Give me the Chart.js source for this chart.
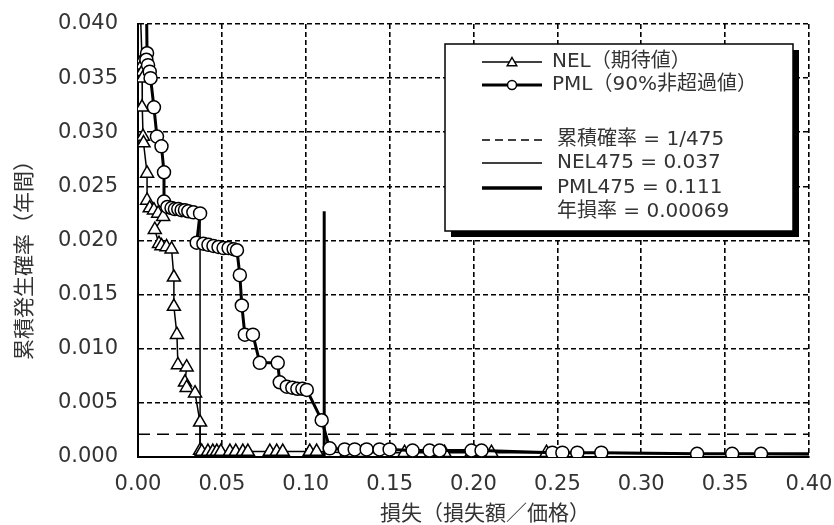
<!DOCTYPE html>
<html lang="ja">
<head>
<meta charset="utf-8">
<script src="https://cdn.jsdelivr.net/npm/chart.js@4.4.1/dist/chart.umd.min.js"></script>
<style>
html, body { margin: 0; padding: 0; background: #fff; }
#wrap { width: 834px; height: 525px; position: relative; }
</style>
</head>
<body>
<div id="wrap"><canvas id="chart" width="834" height="525"></canvas></div>
<script>
// NEL (expected) curve: loss ratio vs cumulative annual exceedance
const nelX = [
    0.0006, 0.0024, 0.0024, 0.0026, 0.0028, 0.0024, 0.0030, 0.0033,
    0.0054, 0.0054, 0.0070, 0.0095, 0.0120, 0.0150, 0.0100, 0.0125,
    0.0140, 0.0170, 0.0200, 0.0214, 0.0214, 0.0232, 0.0238, 0.0290,
    0.0280, 0.0290, 0.0340, 0.0370, 0.0370, 0.0380, 0.0417, 0.0446,
    0.0470, 0.0494, 0.0548, 0.0583, 0.0625, 0.0655, 0.0786, 0.0827,
    0.0863, 0.1024, 0.1065, 0.1244, 0.1333, 0.1589, 0.1756, 0.1827,
    0.1988, 0.2107, 0.2435, 0.4000,
];
const nelY = [
    0.0450, 0.0367, 0.0362, 0.0356, 0.0350, 0.0323, 0.0296, 0.0290,
    0.0262, 0.0237, 0.0230, 0.0228, 0.0225, 0.0222, 0.0210, 0.0197,
    0.0195, 0.0194, 0.0192, 0.0166, 0.0139, 0.0113, 0.0085, 0.0083,
    0.0069, 0.0064, 0.0059, 0.0032, 0.0006, 0.0005, 0.0005, 0.0005,
    0.0005, 0.0005, 0.0005, 0.0005, 0.0005, 0.0005, 0.0005, 0.0005,
    0.0005, 0.0005, 0.0005, 0.0004, 0.0004, 0.0004, 0.0004, 0.0004,
    0.0004, 0.0004, 0.0004, 0.0002,
];

// PML (90% non-exceedance) curve
const pmlX = [
    0.0048, 0.0054, 0.0050, 0.0060, 0.0070, 0.0075, 0.0095, 0.0113,
    0.0140, 0.0155, 0.0155, 0.0175, 0.0200, 0.0220, 0.0240, 0.0260,
    0.0280, 0.0300, 0.0330, 0.0370, 0.0350, 0.0390, 0.0420, 0.0450,
    0.0480, 0.0510, 0.0540, 0.0570, 0.0590, 0.0607, 0.0619, 0.0637,
    0.0685, 0.0726, 0.0833, 0.0845, 0.0887, 0.0920, 0.0950, 0.0980,
    0.1006, 0.1095, 0.1143, 0.1232, 0.1292, 0.1363, 0.1440, 0.1500,
    0.1637, 0.1738, 0.1798, 0.1988, 0.2048, 0.2470, 0.2530, 0.2619,
    0.2762, 0.3333, 0.3542, 0.3714, 0.4000,
];
const pmlY = [
    0.0450, 0.0373, 0.0367, 0.0362, 0.0356, 0.0350, 0.0323, 0.0296,
    0.0287, 0.0263, 0.0236, 0.0231, 0.0230, 0.0229, 0.0229, 0.0228,
    0.0228, 0.0227, 0.0226, 0.0225, 0.0198, 0.0197, 0.0196, 0.0195,
    0.0194, 0.0193, 0.0193, 0.0192, 0.0191, 0.0168, 0.0140, 0.0113,
    0.0113, 0.0087, 0.0087, 0.0069, 0.0065, 0.0064, 0.0063, 0.0063,
    0.0062, 0.0034, 0.0008, 0.0007, 0.0007, 0.0007, 0.0007, 0.0007,
    0.0006, 0.0006, 0.0006, 0.0006, 0.0006, 0.0004, 0.0004, 0.0004,
    0.0004, 0.0003, 0.0003, 0.0003, 0.0003,
];

// reference lines
const probLineX = [0.0, 0.40];
const probLineY = [1 / 475, 1 / 475];
const nel475X = [0.037, 0.037];
const pml475X = [0.111, 0.111];
const markLineY = [0.0, 0.0227];

const legendTexts = [
    'NEL（期待値）',
    'PML（90%非超過値）',
    '累積確率 = 1/475',
    'NEL475 = 0.037',
    'PML475 = 0.111',
    '年損率 = 0.00069',
];
const xTitle = '損失（損失額／価格）';
const yTitle = '累積発生確率（年間）';

const LATIN = "'DejaVu Sans', 'Noto Sans CJK JP', sans-serif";
const JP = "'Noto Sans CJK JP', sans-serif";
const TEXT = '#333';

function toPoints(xs, ys) {
    return xs.map((x, i) => ({ x, y: ys[i] }));
}

// hide markers on the helper end points that run off the chart
function edgeRadius(r) {
    return (ctx) => {
        const n = ctx.dataset.data.length;
        return ctx.dataIndex === 0 || ctx.dataIndex === n - 1 ? 0 : r;
    };
}

// the plot box is placed by layout.padding, not by label overhang
function noOverhang(s) {
    s.paddingTop = 0;
    s.paddingBottom = 0;
    s.paddingLeft = 0;
    s.paddingRight = 0;
}

function triangle(ctx, x, y, r) {
    ctx.beginPath();
    ctx.moveTo(x, y - r);
    ctx.lineTo(x + r * 0.866, y + r * 0.5);
    ctx.lineTo(x - r * 0.866, y + r * 0.5);
    ctx.closePath();
    ctx.fill();
    ctx.stroke();
}

const boxLegend = {
    id: 'boxLegend',
    afterDraw(chart) {
        const ctx = chart.ctx;
        const bx = 445, by = 44, bw = 348, bh = 187;
        ctx.save();
        ctx.fillStyle = '#000';
        ctx.fillRect(bx + 6, by + 6, bw, bh);
        ctx.fillStyle = '#fff';
        ctx.fillRect(bx, by, bw, bh);
        ctx.strokeStyle = '#000';
        ctx.lineWidth = 1.5;
        ctx.strokeRect(bx, by, bw, bh);

        const rows = [
            { y: 62, w: 1.5, dash: [], mark: 'tri', tx: 552 },
            { y: 85, w: 3, dash: [], mark: 'circ', tx: 552 },
            { y: 140, w: 1.5, dash: [8, 5], mark: null, tx: 557 },
            { y: 163, w: 1.5, dash: [], mark: null, tx: 557 },
            { y: 188, w: 3.5, dash: [], mark: null, tx: 557 },
            { y: 212, w: 0, dash: [], mark: null, tx: 557 },
        ];
        rows.forEach((r, i) => {
            if (r.w) {
                ctx.setLineDash(r.dash);
                ctx.lineWidth = r.w;
                ctx.beginPath();
                ctx.moveTo(482, r.y);
                ctx.lineTo(542, r.y);
                ctx.stroke();
                ctx.setLineDash([]);
            }
            ctx.fillStyle = '#fff';
            ctx.lineWidth = 1.5;
            if (r.mark === 'tri') triangle(ctx, 512, r.y + 1, 5.5);
            if (r.mark === 'circ') {
                ctx.beginPath();
                ctx.arc(512, r.y, 4.5, 0, Math.PI * 2);
                ctx.fill();
                ctx.stroke();
            }
            ctx.fillStyle = TEXT;
            ctx.font = `20px ${LATIN}`;
            ctx.textAlign = 'left';
            ctx.textBaseline = 'middle';
            ctx.fillText(legendTexts[i], r.tx, r.y);
        });

        // axis titles
        ctx.font = `21px ${JP}`;
        ctx.textAlign = 'center';
        ctx.textBaseline = 'middle';
        ctx.fillText(xTitle, 485, 512);
        ctx.translate(23, 255);
        ctx.rotate(-Math.PI / 2);
        ctx.fillText(yTitle, 0, 0);
        ctx.restore();
    },
};

const ctx = document.getElementById('chart').getContext('2d');
new Chart(ctx, {
    type: 'scatter',
    data: {
        datasets: [
            {
                label: 'PML',
                data: toPoints(pmlX, pmlY),
                showLine: true,
                borderColor: '#000',
                borderWidth: 3,
                pointStyle: 'circle',
                pointRadius: edgeRadius(6.5),
                pointBackgroundColor: '#fff',
                pointBorderColor: '#000',
                pointBorderWidth: 1.5,
                order: 0,
            },
            {
                label: 'NEL',
                data: toPoints(nelX, nelY),
                showLine: true,
                borderColor: '#000',
                borderWidth: 1.5,
                pointStyle: 'triangle',
                pointRadius: edgeRadius(7.5),
                pointBackgroundColor: '#fff',
                pointBorderColor: '#000',
                pointBorderWidth: 1.5,
                order: 1,
            },
            {
                label: 'PML475',
                data: toPoints(pml475X, markLineY),
                showLine: true,
                borderColor: '#000',
                borderWidth: 3,
                pointRadius: 0,
                order: 2,
            },
            {
                label: 'NEL475',
                data: toPoints(nel475X, markLineY),
                showLine: true,
                borderColor: '#000',
                borderWidth: 1.5,
                pointRadius: 0,
                order: 3,
            },
            {
                label: '1/475',
                data: toPoints(probLineX, probLineY),
                showLine: true,
                borderColor: '#000',
                borderWidth: 1.5,
                borderDash: [12, 7],
                pointRadius: 0,
                order: 4,
            },
        ],
    },
    options: {
        responsive: false,
        animation: false,
        layout: { padding: { top: 24, right: 25, left: 0, bottom: 0 } },
        plugins: {
            legend: { display: false },
            tooltip: { enabled: false },
        },
        scales: {
            x: {
                type: 'linear',
                min: 0,
                max: 0.4,
                afterFit: (s) => { s.height = 68; noOverhang(s); },
                grid: { color: '#000', lineWidth: 1.6, drawTicks: false },
                border: { color: '#000', width: 2, dash: [5, 3] },
                ticks: {
                    stepSize: 0.05,
                    padding: 15,
                    color: TEXT,
                    font: { family: LATIN, size: 21 },
                    callback: (v) => v.toFixed(2),
                },
            },
            y: {
                type: 'linear',
                min: 0,
                max: 0.04,
                afterFit: (s) => { s.width = 138; noOverhang(s); },
                grid: { color: '#000', lineWidth: 1.6, drawTicks: false },
                border: { color: '#000', width: 2, dash: [5, 3] },
                ticks: {
                    stepSize: 0.005,
                    padding: 20,
                    color: TEXT,
                    font: { family: LATIN, size: 21 },
                    callback: (v) => v.toFixed(3),
                },
            },
        },
    },
    plugins: [boxLegend],
});
</script>
</body>
</html>
